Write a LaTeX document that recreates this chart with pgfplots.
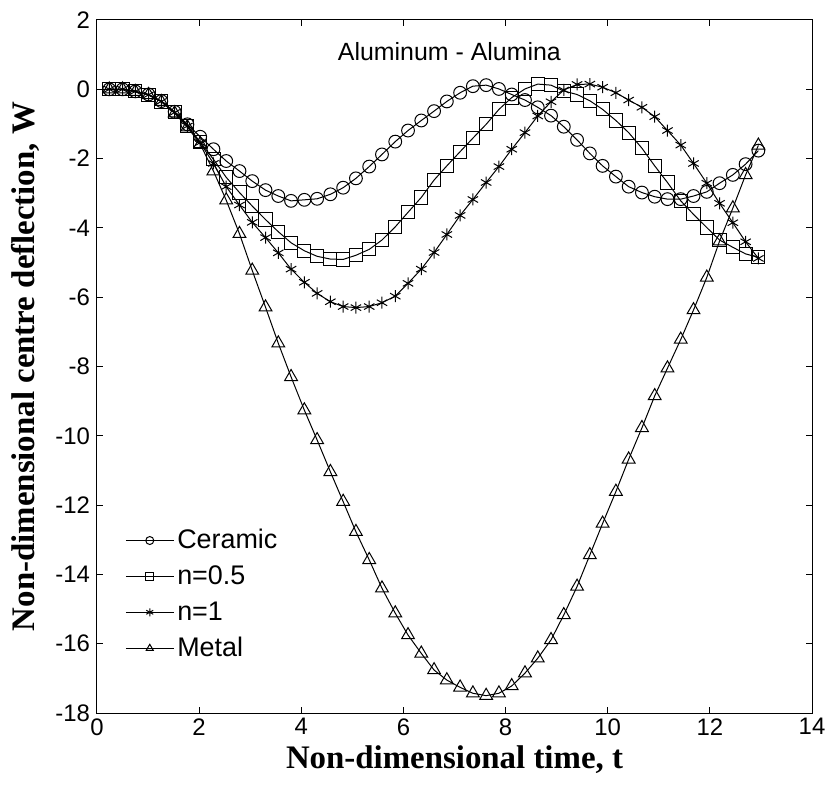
\documentclass[border=0pt]{standalone}
\usepackage{fontspec}
\setmainfont{Liberation Sans}
\newfontfamily\timesfont{Liberation Serif}
\usepackage{pgfplots}
\pgfplotsset{compat=1.18}
\begin{document}
\begin{tikzpicture}
\begin{axis}[
  scale only axis, width=357.5bp, height=346.5bp,
  xmin=0, xmax=14, ymin=-18, ymax=2,
  xtick={0,2,...,14}, ytick={-18,-16,...,2},
  tick align=inside, major tick length=3bp,
  axis line style={line width=0.5bp}, every tick/.style={black, line width=0.5bp},
  /pgf/number format/assume math mode=true,
  ticklabel style={font=\fontsize{12}{13}\selectfont},
  xticklabel style={inner sep=1bp, yshift=-1.5bp},
  xlabel={\timesfont\bfseries Non-dimensional time, t},
  ylabel={\timesfont\bfseries Non-dimensional centre deflection, W},
  xlabel style={font=\fontsize{16.5}{18}\selectfont, inner sep=0pt, at={(axis description cs:0.5,-0.068)}, anchor=center},
  ylabel style={font=\fontsize{16.5}{18}\selectfont, at={(axis description cs:-0.1007,0.5)}, anchor=center},
  legend cell align=left,
  legend style={draw=none, fill=none, at={(axis description cs:0.039,0.27)}, anchor=north west,
    font=\fontsize{13.5}{15}\selectfont, inner sep=0pt, row sep=4bp,
    nodes={inner sep=1.5bp}},
  legend image code/.code={\draw[#1, mark repeat=2, mark phase=2, mark size=2bp]
    plot coordinates {(0bp,0bp) (12bp,0bp) (24bp,0bp)};},
  every axis plot/.append style={black, line width=0.5bp, mark options={solid, line width=0.5bp}},
]
\addplot[forget plot] coordinates {(0,0) (0.24,0)};
\addplot[mark=o, mark size=3.2bp] coordinates {
(0.24,0.00) (0.50,0.00) (0.75,-0.06) (1.01,-0.15) (1.26,-0.34) (1.52,-0.65) (1.77,-1.01) (2.02,-1.37)
(2.28,-1.73) (2.53,-2.07) (2.79,-2.36) (3.04,-2.65) (3.30,-2.91) (3.55,-3.08) (3.80,-3.22) (4.06,-3.19)
(4.31,-3.16) (4.57,-3.03) (4.82,-2.84) (5.07,-2.57) (5.33,-2.23) (5.58,-1.88) (5.84,-1.51) (6.09,-1.19)
(6.35,-0.90) (6.60,-0.63) (6.85,-0.35) (7.11,-0.10) (7.36,0.09) (7.62,0.12) (7.87,0.01) (8.12,-0.15)
(8.38,-0.31) (8.63,-0.52) (8.89,-0.76) (9.14,-1.08) (9.40,-1.46) (9.65,-1.85) (9.90,-2.21) (10.16,-2.52)
(10.41,-2.81) (10.67,-2.98) (10.92,-3.10) (11.17,-3.17) (11.43,-3.17) (11.68,-3.08) (11.94,-2.96) (12.19,-2.71)
(12.45,-2.47) (12.70,-2.16) (12.95,-1.77)};
\addlegendentry{Ceramic}
\addplot[mark=square, mark size=3.3bp] coordinates {
(0.24,0.00) (0.50,0.00) (0.75,-0.06) (1.01,-0.16) (1.26,-0.35) (1.52,-0.66) (1.77,-1.05) (2.02,-1.52)
(2.28,-2.02) (2.53,-2.54) (2.79,-2.98) (3.04,-3.37) (3.30,-3.76) (3.55,-4.11) (3.80,-4.43) (4.06,-4.66)
(4.31,-4.82) (4.57,-4.90) (4.82,-4.91) (5.07,-4.79) (5.33,-4.62) (5.58,-4.35) (5.84,-3.97) (6.09,-3.55)
(6.35,-3.12) (6.60,-2.62) (6.85,-2.21) (7.11,-1.80) (7.36,-1.41) (7.62,-1.01) (7.87,-0.58) (8.12,-0.24)
(8.38,0.01) (8.63,0.15) (8.89,0.12) (9.14,-0.05) (9.40,-0.15) (9.65,-0.33) (9.90,-0.58) (10.16,-0.90)
(10.41,-1.25) (10.67,-1.70) (10.92,-2.21) (11.17,-2.69) (11.43,-3.22) (11.68,-3.61) (11.94,-3.99) (12.19,-4.35)
(12.45,-4.56) (12.70,-4.75) (12.95,-4.85)};
\addlegendentry{n=0.5}
\addplot[mark=asterisk, mark size=3bp] coordinates {
(0.24,0.00) (0.50,0.00) (0.75,-0.06) (1.01,-0.16) (1.26,-0.35) (1.52,-0.67) (1.77,-1.06) (2.02,-1.54)
(2.28,-2.14) (2.53,-2.81) (2.79,-3.34) (3.04,-3.84) (3.30,-4.28) (3.55,-4.72) (3.80,-5.19) (4.06,-5.57)
(4.31,-5.89) (4.57,-6.13) (4.82,-6.27) (5.07,-6.30) (5.33,-6.27) (5.58,-6.16) (5.84,-5.97) (6.09,-5.60)
(6.35,-5.19) (6.60,-4.71) (6.85,-4.19) (7.11,-3.64) (7.36,-3.18) (7.62,-2.69) (7.87,-2.23) (8.12,-1.73)
(8.38,-1.25) (8.63,-0.77) (8.89,-0.36) (9.14,-0.02) (9.40,0.14) (9.65,0.15) (9.90,0.06) (10.16,-0.10)
(10.41,-0.31) (10.67,-0.52) (10.92,-0.79) (11.17,-1.19) (11.43,-1.61) (11.68,-2.14) (11.94,-2.71) (12.19,-3.29)
(12.45,-3.85) (12.70,-4.40) (12.95,-4.88)};
\addlegendentry{n=1}
\addplot[mark=triangle, mark size=3.7bp] coordinates {
(0.24,0.00) (0.50,0.00) (0.75,-0.07) (1.01,-0.16) (1.26,-0.36) (1.52,-0.69) (1.77,-1.09) (2.02,-1.58)
(2.28,-2.36) (2.53,-3.20) (2.79,-4.17) (3.04,-5.23) (3.30,-6.29) (3.55,-7.33) (3.80,-8.30) (4.06,-9.26)
(4.31,-10.12) (4.57,-11.04) (4.82,-11.90) (5.07,-12.77) (5.33,-13.58) (5.58,-14.40) (5.84,-15.12) (6.09,-15.75)
(6.35,-16.28) (6.60,-16.76) (6.85,-17.05) (7.11,-17.26) (7.36,-17.43) (7.62,-17.50) (7.87,-17.43) (8.12,-17.22)
(8.38,-16.85) (8.63,-16.42) (8.89,-15.89) (9.14,-15.17) (9.40,-14.35) (9.65,-13.44) (9.90,-12.53) (10.16,-11.61)
(10.41,-10.68) (10.67,-9.77) (10.92,-8.85) (11.17,-8.05) (11.43,-7.22) (11.68,-6.37) (11.94,-5.43) (12.19,-4.38)
(12.45,-3.43) (12.70,-2.47) (12.95,-1.62)};
\addlegendentry{Metal}
\node[font=\fontsize{12.5}{14}\selectfont] at (axis cs:6.9,1.08) {Aluminum - Alumina};
\coordinate (bl) at (rel axis cs:0,0);
\coordinate (tr) at (rel axis cs:1,1);
\end{axis}
\pgfresetboundingbox
\useasboundingbox ([shift={(-48.5bp,-36.5bp)}]bl) rectangle ([shift={(8.5bp,10bp)}]tr);
\end{tikzpicture}
\end{document}
